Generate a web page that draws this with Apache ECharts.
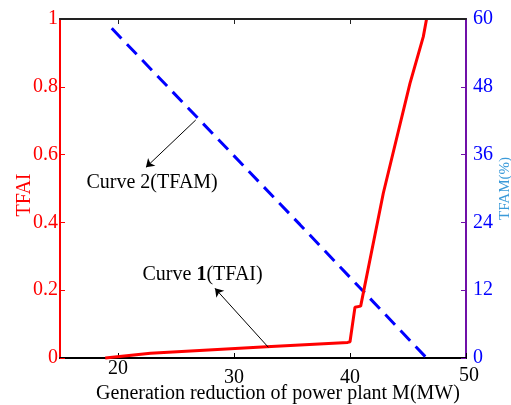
<!DOCTYPE html>
<html>
<head>
<meta charset="utf-8">
<script src="https://cdn.jsdelivr.net/npm/echarts@6/dist/echarts.min.js"></script>
<style>html,body{margin:0;padding:0;background:#fff}#c{width:511px;height:405px}</style>
</head>
<body>
<div id="c"></div>
<script>
// Curve 1: TFAI (left axis)
var tfaiX = [18.9, 22.8, 32.8, 39.8, 40.0, 40.43, 40.92, 42.87, 45.17, 46.32, 46.6];
var tfaiY = [0.0, 0.014, 0.033, 0.046, 0.048, 0.15, 0.153, 0.486, 0.81, 0.948, 1.0];
// Curve 2: TFAM (%) (right axis)
var tfamX = [19.46, 35.69, 46.6];
var tfamY = [58.35, 23.6, 0];
var xTicks = [20, 30, 40, 50];
var leftTicks = [0, 0.2, 0.4, 0.6, 0.8, 1];
var rightTicks = [0, 12, 24, 36, 48, 60];

var serif = 'Liberation Serif, Times New Roman, serif';
function pairs(xs, ys) { return xs.map(function (x, i) { return [x, ys[i]]; }); }

var chart = echarts.init(document.getElementById('c'), null, { renderer: 'canvas' });
chart.setOption({
  animation: false,
  backgroundColor: '#fff',
  grid: { left: 60, right: 45, top: 19, bottom: 47, containLabel: false, outerBoundsMode: 'none',
          show: true, borderColor: '#333', borderWidth: 2, backgroundColor: 'rgba(0,0,0,0)' },
  xAxis: [{
    type: 'value', min: 15, max: 50, position: 'bottom',
    name: 'Generation reduction of power plant M(MW)',
    nameLocation: 'middle', nameGap: 26, nameMoveOverlap: false,
    nameTextStyle: { fontFamily: serif, fontSize: 20, color: '#000', padding: [0, 0, 0, 30] },
    axisLine: { show: true, onZero: false, lineStyle: { color: '#000', width: 2 } },
    axisTick: { show: true, inside: true, length: 5, customValues: xTicks, lineStyle: { color: '#000', width: 1 } },
    axisLabel: {
      customValues: xTicks, margin: 1, fontFamily: serif, fontSize: 20, color: '#000',
      formatter: function (v) { return v === 20 ? '{a|20}' : (v === 50 ? '{c|50}' : '{b|' + v + '}'); },
      rich: {
        a: { fontFamily: serif, fontSize: 20, color: '#000', padding: [0, 0, 0, 0] },
        b: { fontFamily: serif, fontSize: 20, color: '#000', padding: [9, 0, 0, 0] },
        c: { fontFamily: serif, fontSize: 20, color: '#000', padding: [7, 0, 0, 6] }
      }
    },
    splitLine: { show: false }
  }, {
    type: 'value', min: 15, max: 50, position: 'top',
    axisLine: { show: true, onZero: false, lineStyle: { color: '#222', width: 2 } },
    axisTick: { show: true, inside: true, length: 5, customValues: [20, 30, 40], lineStyle: { color: '#222' } },
    axisLabel: { show: false },
    splitLine: { show: false }
  }],
  yAxis: [{
    type: 'value', min: 0, max: 1, interval: 0.2, position: 'left',
    name: 'TFAI', nameLocation: 'middle', nameGap: 25, nameRotate: 90, nameMoveOverlap: false,
    nameTextStyle: { fontFamily: serif, fontSize: 20, color: '#ff0000', padding: [0, 13, 0, 0] },
    axisLine: { show: true, onZero: false, lineStyle: { color: '#ff0000', width: 2 } },
    axisTick: { show: true, inside: true, length: 5, lineStyle: { color: '#ff0000' } },
    axisLabel: { margin: 2, fontFamily: serif, fontSize: 20, color: '#ff0000' },
    splitLine: { show: false }
  }, {
    type: 'value', min: 0, max: 60, interval: 12, position: 'right',
    name: 'TFAM(%)', nameLocation: 'middle', nameGap: 32, nameRotate: 90, nameMoveOverlap: false,
    nameTextStyle: { fontFamily: serif, fontSize: 15, color: '#3b9ad9' },
    axisLine: { show: true, onZero: false, lineStyle: { color: '#7010a8', width: 2 } },
    axisTick: { show: true, inside: true, length: 5, lineStyle: { color: '#7010a8' } },
    axisLabel: { margin: 7, fontFamily: serif, fontSize: 20, color: '#0000ff' },
    splitLine: { show: false }
  }],
  series: [{
    name: 'TFAI', type: 'line', yAxisIndex: 0, xAxisIndex: 0,
    data: pairs(tfaiX, tfaiY), showSymbol: false, symbol: 'none', clip: false,
    lineStyle: { color: '#ff0000', width: 3 }, z: 3,
    markLine: {
      silent: true, symbol: ['none', 'arrow'], symbolSize: 8,
      lineStyle: { color: '#000', width: 1, type: 'solid' },
      label: { show: false },
      data: [
        [{ coord: [32.96, 0.0316] }, { coord: [28.36, 0.2056] }],
        [{ coord: [26.70, 0.702] }, { coord: [22.41, 0.5625] }],
        [{ coord: [15, 1], symbol: 'none', lineStyle: { color: '#222', width: 2 } },
         { coord: [50, 1], symbol: 'none' }]
      ]
    },
    markPoint: {
      silent: true, symbol: 'circle', symbolSize: 1,
      itemStyle: { color: 'rgba(0,0,0,0)' },
      label: {
        show: true, position: 'right', distance: 0,
        fontFamily: serif, fontSize: 20, color: '#000',
        rich: { n: { fontFamily: serif, fontSize: 20, color: '#000', fontWeight: 'bold' } }
      },
      data: [
        { coord: [22.07, 0.245], value: 1, label: { formatter: 'Curve {n|1}(TFAI)' } },
        { coord: [17.24, 0.516], value: 2, label: { formatter: 'Curve 2(TFAM)' } }
      ]
    }
  }, {
    name: 'TFAM', type: 'line', yAxisIndex: 1, xAxisIndex: 0,
    data: pairs(tfamX, tfamY), showSymbol: false, symbol: 'none',
    lineStyle: { color: '#0000ff', width: 3, type: [14, 8] }, z: 2
  }]
});
</script>
</body>
</html>
